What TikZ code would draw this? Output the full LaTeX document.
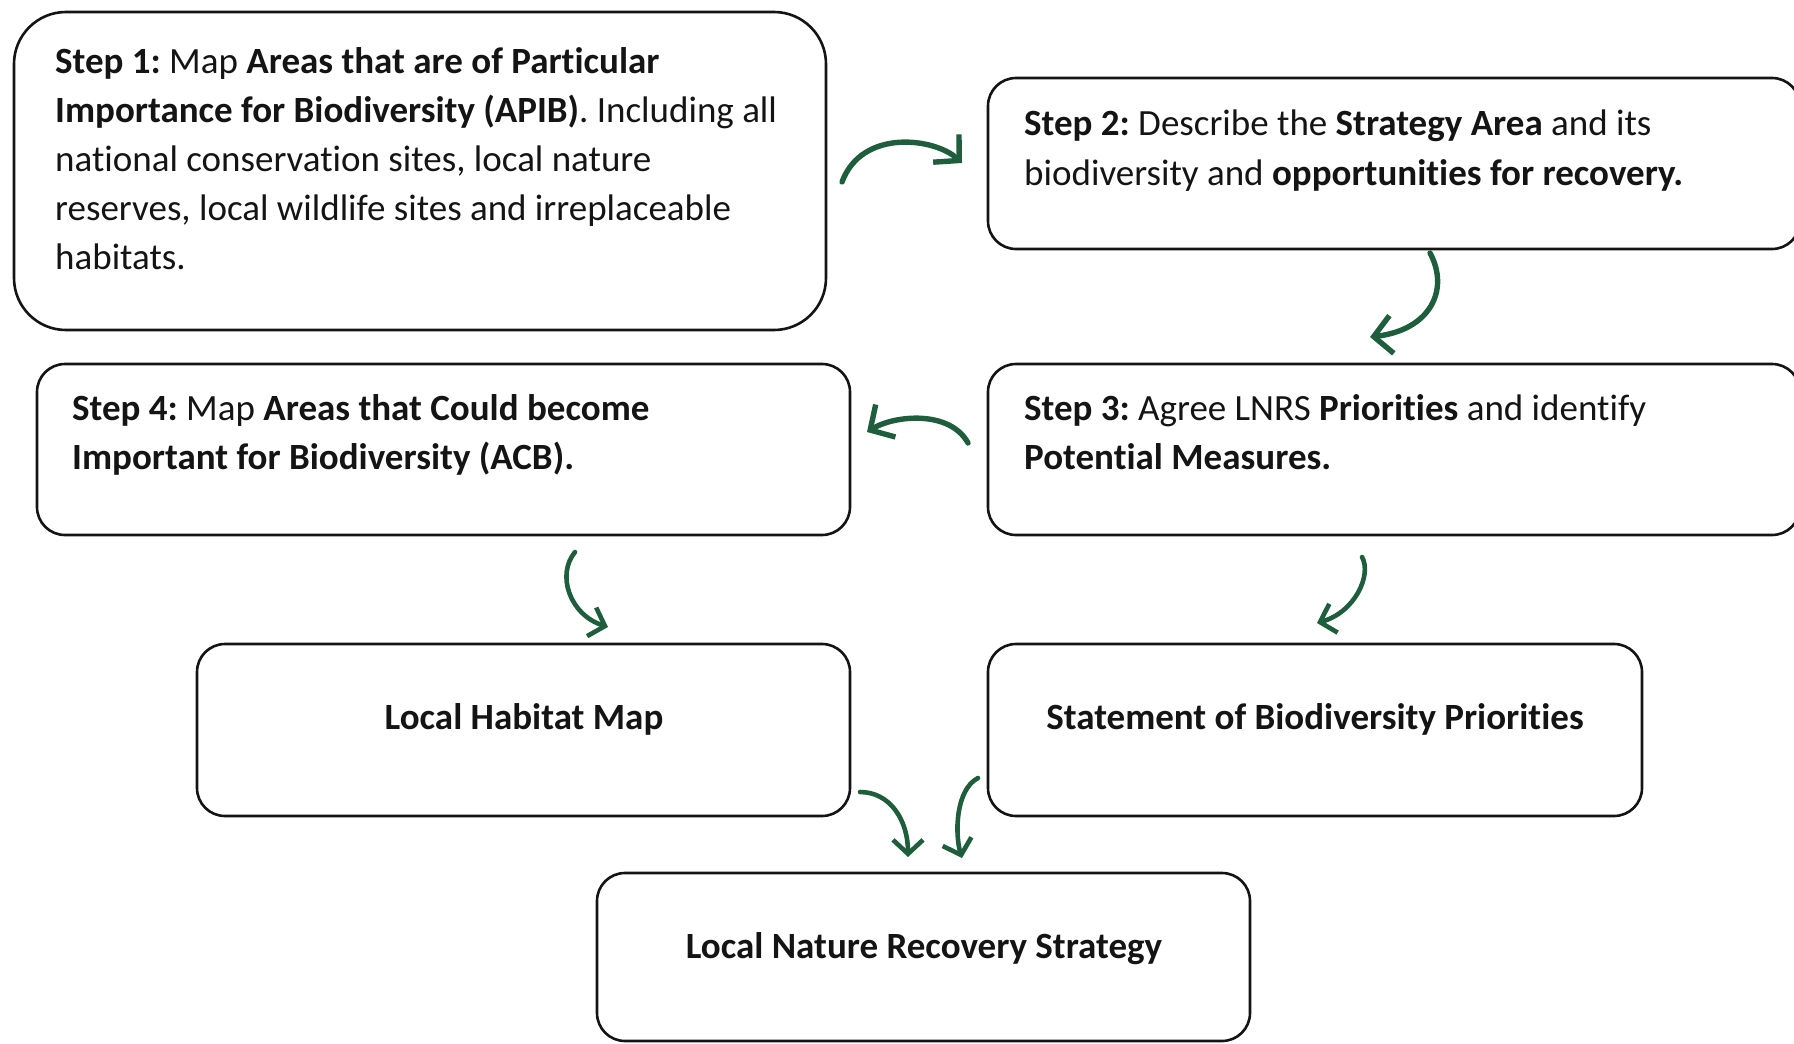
\documentclass[tikz,border=0pt]{standalone}
\usepackage{fontspec}
\setmainfont{Carlito}[Ligatures=NoCommon]
\frenchspacing
\usetikzlibrary{arrows.meta}
\definecolor{leaf}{RGB}{30,94,60}
\definecolor{ink}{RGB}{20,20,20}
\tikzset{
  panel/.style={draw=ink, line width=2.6pt, rounded corners=28pt, inner sep=0pt},
  bigpanel/.style={panel, rounded corners=52pt},
  txt/.style={inner sep=0pt, anchor=north west, align=left, text=ink,
    font=\fontsize{37}{49.2}\selectfont},
  ctxt/.style={inner sep=0pt, anchor=base, text=ink,
    font=\fontsize{37}{49.2}\selectfont\bfseries},
  flow/.style={draw=leaf, line width=4.6pt, line cap=round, line join=round,
    -{Straight Barb[length=14pt, width=30pt, line width=4.6pt]}},
  bigflow/.style={flow, line width=5.4pt,
    -{Straight Barb[length=18pt, width=38pt, line width=5.4pt]}},
}
\newcommand{\panelbox}[6]{%
  \node[#2, minimum width={#5-#3}, minimum height={#6-#4}] (#1) at ({(#3+#5)/2},{(#4+#6)/2}) {};}
\begin{document}
\begin{tikzpicture}[x=1pt, y=-1pt]
\useasboundingbox (0,0) rectangle (1794,1044);

% outlined step boxes
\panelbox{s1}{bigpanel}{14}{12}{826}{330}
\panelbox{s2}{panel}{988}{78}{1800}{249}
\panelbox{s3}{panel}{988}{364}{1800}{535}
\panelbox{s4}{panel}{37}{364}{850}{535}
\panelbox{hab}{panel}{197}{644}{850}{816}
\panelbox{pri}{panel}{988}{644}{1642}{816}
\panelbox{lnrs}{panel}{597}{873}{1250}{1041}

% box texts
\node[txt] (t1) at (55,47) {\textbf{Step 1:} Map \textbf{Areas that are of Particular}\\
  \textbf{Importance for Biodiversity (APIB)}. Including all\\
  national conservation sites, local nature\\
  reserves, local wildlife sites and irreplaceable\\
  habitats.};
\node[txt] (t2) at (1024,110) {\textbf{Step 2:} Describe the \textbf{Strategy Area} and its\\
  biodiversity and \textbf{opportunities for recovery.}};
\node[txt] (t3) at (1024,394) {\textbf{Step 3:} Agree LNRS \textbf{Priorities} and identify\\
  \textbf{Potential Measures.}};
\node[txt] (t4) at (72,394) {\textbf{Step 4:} Map \textbf{Areas that Could become}\\
  \textbf{Important for Biodiversity (ACB).}};
\node[ctxt] (t5) at (524,729) {Local Habitat Map};
\node[ctxt] (t6) at (1315,729) {Statement of Biodiversity Priorities};
\node[ctxt] (t7) at (924,958) {Local Nature Recovery Strategy};

% connector end points
\coordinate (a1s) at (842,182);  \coordinate (a1e) at (962,163);
\coordinate (a2s) at (1430,253); \coordinate (a2e) at (1370,337);
\coordinate (a3s) at (968,443);  \coordinate (a3e) at (867,432);
\coordinate (a4s) at (575,552);  \coordinate (a4e) at (608,627);
\coordinate (a5s) at (1362,557); \coordinate (a5e) at (1317,623);
\coordinate (a6s) at (860,792);  \coordinate (a6e) at (908,857);
\coordinate (a7s) at (978,778);  \coordinate (a7e) at (962,858);

% curved green arrows
\draw[bigflow] (a1s) .. controls (862,128) and (935,138) .. (a1e);
\draw[bigflow] (a2s) .. controls (1450,290) and (1430,330) .. (a2e);
\draw[bigflow] (a3s) .. controls (950,410) and (895,415) .. (a3e);
\draw[flow] (a4s) .. controls (556,575) and (570,615) .. (a4e);
\draw[flow] (a5s) .. controls (1372,575) and (1355,612) .. (a5e);
\draw[flow] (a6s) .. controls (890,792) and (908,820) .. (a6e);
\draw[flow] (a7s) .. controls (955,790) and (955,835) .. (a7e);
\end{tikzpicture}
\end{document}
